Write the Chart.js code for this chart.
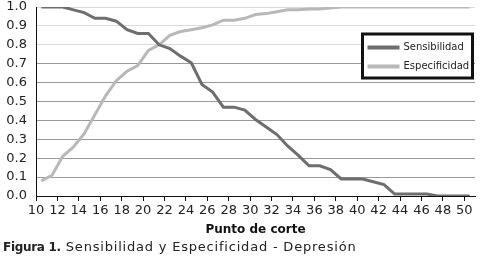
<!DOCTYPE html>
<html>
<head>
<meta charset="utf-8">
<script src="https://cdn.jsdelivr.net/npm/chart.js@4.4.1/dist/chart.umd.min.js"></script>
<style>
  body { margin: 0; background: #fff; }
  #wrap { position: relative; width: 482px; height: 261px; }
  #caption {
    position: absolute; left: 3px; top: 239px;
    font-family: "DejaVu Sans", sans-serif; font-size: 13px;
    letter-spacing: 0.8px; color: #222; white-space: nowrap;
  }
  #caption b { font-size: 12px; letter-spacing: -0.3px; }
</style>
</head>
<body>
<div id="wrap">
  <canvas id="corteChart" width="482" height="240"></canvas>
  <div id="caption"><b>Figura 1.</b> Sensibilidad y Especificidad - Depresión</div>
</div>
<script>
// Punto de corte 10..50
var puntos = ['10','11','12','13','14','15','16','17','18','19','20','21','22','23','24','25','26','27','28','29','30',
              '31','32','33','34','35','36','37','38','39','40','41','42','43','44','45','46','47','48','49','50'];

var sensibilidad = [1.00, 1.00, 1.00, 0.985, 0.97, 0.94, 0.94, 0.925, 0.88, 0.86, 0.86,
                    0.80, 0.78, 0.74, 0.705, 0.59, 0.55, 0.47, 0.47, 0.455, 0.405,
                    0.365, 0.325, 0.265, 0.215, 0.16, 0.16, 0.14, 0.09, 0.09, 0.09,
                    0.075, 0.06, 0.01, 0.01, 0.01, 0.01, 0.0, 0.0, 0.0, 0.0];

var especificidad = [0.08, 0.11, 0.21, 0.26, 0.33, 0.43, 0.53, 0.61, 0.66, 0.69, 0.77,
                     0.80, 0.85, 0.87, 0.88, 0.89, 0.905, 0.93, 0.93, 0.94, 0.96,
                     0.965, 0.975, 0.985, 0.985, 0.99, 0.99, 0.995, 1.0, 1.0, 1.0,
                     1.0, 1.0, 1.0, 1.0, 1.0, 1.0, 1.0, 1.0, 1.0, 1.0];

var yTicks = [0.0, 0.1, 0.2, 0.3, 0.4, 0.5, 0.6, 0.7, 0.8, 0.9, 1.0];

// legend box drawn inside the plot, top right
var boxLegend = {
    id: 'boxLegend',
    afterDraw: function(chart) {
        var ctx = chart.ctx;
        var area = chart.chartArea;
        var x = area.right - 112.5, y = area.top + 27, w = 110, h = 44;
        ctx.save();
        ctx.fillStyle = '#fff';
        ctx.fillRect(x, y, w, h);
        ctx.lineWidth = 3;
        ctx.strokeStyle = '#111';
        ctx.strokeRect(x, y, w, h);
        ctx.font = '10px "DejaVu Sans"';
        ctx.textBaseline = 'middle';
        chart.data.datasets.forEach(function(ds, i) {
            var rowY = y + 13.5 + i * 19;
            ctx.strokeStyle = ds.borderColor;
            ctx.lineWidth = 4;
            ctx.beginPath();
            ctx.moveTo(x + 5, rowY);
            ctx.lineTo(x + 37, rowY);
            ctx.stroke();
            ctx.fillStyle = '#222';
            ctx.fillText(ds.label, x + 41, rowY);
        });
        ctx.restore();
    }
};

var ctx = document.getElementById('corteChart').getContext('2d');
var corteChart = new Chart(ctx, {
    type: 'line',
    data: {
        labels: puntos,
        datasets: [{
            label: 'Sensibilidad',
            data: sensibilidad,
            borderColor: '#6e6e6e',
            borderWidth: 3,
            pointRadius: 0,
            tension: 0,
            fill: false
        }, {
            label: 'Especificidad',
            data: especificidad,
            borderColor: '#b8b8b8',
            borderWidth: 3,
            pointRadius: 0,
            tension: 0,
            fill: false
        }]
    },
    options: {
        responsive: false,
        animation: false,
        layout: { padding: { top: 7, right: 7, left: 0, bottom: 0 } },
        scales: {
            x: {
                offset: true,
                grid: {
                    offset: true,
                    drawOnChartArea: false,
                    drawTicks: true,
                    tickLength: 5,
                    tickColor: function(c) { return c.index % 2 === 0 ? '#111' : 'rgba(0,0,0,0)'; }
                },
                border: { color: '#111', width: 1 },
                ticks: {
                    autoSkip: false,
                    maxRotation: 0,
                    padding: 2,
                    color: '#222',
                    font: { family: 'DejaVu Sans', size: 13 },
                    labelOffset: -5.35,
                    callback: function(val, i) { return i % 2 === 0 ? puntos[i] : ''; }
                },
                title: {
                    display: true,
                    text: 'Punto de corte',
                    color: '#111',
                    font: { family: 'DejaVu Sans', size: 12, weight: 'bold' },
                    padding: { top: 0, bottom: 3 }
                },
                afterFit: function(scale) {
                    scale.height = 44;
                    scale.paddingLeft = 0;
                    scale.paddingRight = 0;
                }
            },
            y: {
                min: 0,
                max: 1,
                afterBuildTicks: function(scale) {
                    scale.ticks = yTicks.map(function(v) { return { value: v }; });
                },
                grid: {
                    drawTicks: false,
                    color: function(c) { return c.tick && c.tick.value >= 0.75 ? '#dadada' : '#999999'; }
                },
                border: { color: '#111', width: 1 },
                ticks: {
                    autoSkip: false,
                    padding: 9,
                    color: '#222',
                    font: { family: 'DejaVu Sans', size: 13 },
                    callback: function(v) { return v.toFixed(1); }
                },
                afterFit: function(scale) {
                    scale.width = 36;
                    scale.paddingTop = 0;
                    scale.paddingBottom = 0;
                }
            }
        },
        plugins: {
            legend: { display: false },
            tooltip: { enabled: false }
        }
    },
    plugins: [boxLegend]
});
</script>
</body>
</html>
